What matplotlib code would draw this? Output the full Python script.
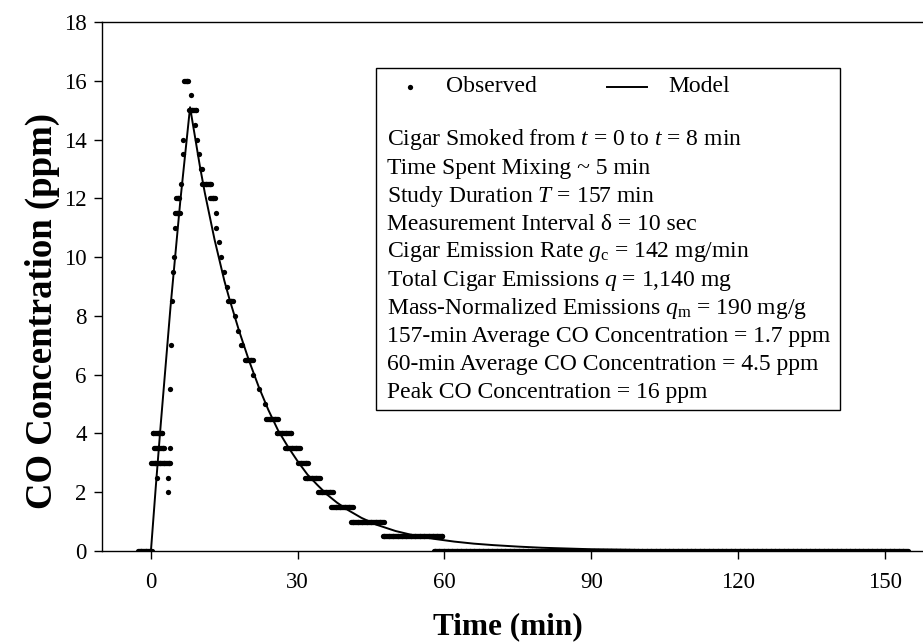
import numpy as np
import matplotlib
matplotlib.use("Agg")
import matplotlib.pyplot as plt
from matplotlib.patches import Rectangle
from matplotlib.lines import Line2D

plt.rcParams["font.family"] = ["Liberation Serif", "DejaVu Serif"]
plt.rcParams["mathtext.fontset"] = "custom"
plt.rcParams["mathtext.rm"] = "Liberation Serif"
plt.rcParams["mathtext.it"] = "Liberation Serif:italic"

# Observed CO readings (ppm), logged every 10 s and quantized to 0.5 ppm.
# Each entry is a run of equal readings: level, first and last time (min).
obs_level = [0.0, 4.0, 3.5, 3.5, 3.0, 2.5, 2.5, 2.0, 5.5, 7.0, 8.5, 9.5, 10.0,
             11.0, 11.5, 12.0, 12.5, 13.5, 14.0, 16.0, 15.5, 15.0, 14.5, 14.0,
             13.5, 13.0, 12.5, 12.0, 11.5, 11.0, 10.5, 10.0, 9.5, 9.0, 8.5,
             8.0, 7.5, 7.0, 6.5, 6.0, 5.5, 5.0, 4.5, 4.0, 3.5, 3.0, 2.5, 2.0,
             1.5, 1.0, 0.5, 0.0]
obs_start = [-2.6, 0.35, 0.7, 3.9, 0.1, 1.3, 3.4, 3.5, 4.0, 4.17, 4.33, 4.5,
             4.67, 5.0, 4.9, 5.1, 6.1, 6.5, 6.6, 6.8, 8.1, 7.8, 9.0, 9.4, 9.8,
             10.2, 10.5, 12.1, 13.2, 13.4, 13.9, 14.4, 14.9, 15.5, 15.8, 17.2,
             17.8, 18.5, 19.2, 20.9, 22.1, 23.3, 23.6, 25.7, 27.4, 30.1, 31.5,
             34.2, 36.9, 40.9, 47.4, 57.8]
obs_end = [0.33, 2.5, 2.7, 3.9, 4.0, 1.3, 3.4, 3.5, 4.0, 4.17, 4.33, 4.5,
           4.67, 5.0, 6.0, 5.9, 6.1, 6.5, 6.6, 7.7, 8.1, 9.4, 9.0, 9.4, 9.8,
           10.4, 12.4, 13.2, 13.2, 13.4, 13.9, 14.4, 14.9, 15.5, 16.8, 17.2,
           17.8, 18.7, 20.9, 20.9, 22.1, 23.3, 26.0, 28.8, 30.5, 32.2, 34.5,
           37.3, 41.3, 47.7, 59.6, 154.7]
SAMPLE_STEP = 10.0 / 60.0  # measurement interval, min

# Mass-balance model curve (ppm vs min)
model_time = [0, 1, 2, 3, 4, 5, 6, 7, 8, 9, 10, 11, 12, 13, 14, 15, 16, 18,
              20, 22, 24, 26, 28, 30, 32, 34, 36, 38, 40, 43, 46, 50, 54, 58,
              62, 66, 70, 75, 80, 90, 100, 110, 120, 135, 155]
model_conc = [0.0, 2.2, 4.3, 6.3, 8.3, 10.1, 11.9, 13.5, 15.1, 14.1, 13.1,
              12.2, 11.4, 10.6, 9.9, 9.2, 8.6, 7.5, 6.5, 5.6, 4.8, 4.1, 3.55,
              3.05, 2.6, 2.25, 1.92, 1.65, 1.42, 1.13, 0.9, 0.68, 0.52, 0.41,
              0.32, 0.25, 0.2, 0.15, 0.11, 0.06, 0.035, 0.02, 0.01, 0.005, 0.0]

x_ticks = [0, 30, 60, 90, 120, 150]
y_ticks = [0, 2, 4, 6, 8, 10, 12, 14, 16, 18]

info_lines = [
    "Cigar Smoked from $t$ = 0 to $t$ = 8 min",
    "Time Spent Mixing ~ 5 min",
    "Study Duration $T$ = 157 min",
    "Measurement Interval \u03b4 = 10 sec",
    "Cigar Emission Rate $g_{\\mathrm{c}}$ = 142 mg/min",
    "Total Cigar Emissions $q$ = 1,140 mg",
    "Mass-Normalized Emissions $q_{\\mathrm{m}}$ = 190 mg/g",
    "157-min Average CO Concentration = 1.7 ppm",
    "60-min Average CO Concentration = 4.5 ppm",
    "Peak CO Concentration = 16 ppm",
]

# expand runs into individual 10-s readings
obs_t, obs_v = [], []
for lev, s, e in zip(obs_level, obs_start, obs_end):
    ts = np.arange(s, e + 1e-6, SAMPLE_STEP)
    obs_t.extend(ts)
    obs_v.extend([lev] * len(ts))

W, H = 923, 643
fig = plt.figure(figsize=(W / 100, H / 100), dpi=100)
ax_l, ax_r, ax_t, ax_b = 102, 923, 22, 551
ax = fig.add_axes([ax_l / W, 1 - ax_b / H, (ax_r - ax_l) / W, (ax_b - ax_t) / H])


def ax_x(px):
    return (px - ax_l) / (ax_r - ax_l)


def ax_y(py):
    return (ax_b - py) / (ax_b - ax_t)


ax.plot(obs_t, obs_v, "o", ms=3.8, color="black", mec="none")
ax.plot(model_time, model_conc, "-", color="black", lw=1.4)

ax.set_xlim(-10, 157.8)
ax.set_ylim(0, 18)
ax.set_xticks(x_ticks)
ax.set_yticks(y_ticks)
ax.spines["right"].set_visible(False)
for sp in ("left", "bottom", "top"):
    ax.spines[sp].set_linewidth(1.0)
ax.tick_params(direction="out", length=6, width=1, labelsize=16.5,
               top=False, right=False)
ax.tick_params(axis="x", pad=9)
ax.tick_params(axis="y", pad=5)
ax.set_xlabel("Time (min)", fontsize=22.5, fontweight="bold")
ax.xaxis.set_label_coords(0.4945, ax_y(612))
ax.set_ylabel("CO Concentration (ppm)", fontsize=26.5, fontweight="bold")
ax.yaxis.set_label_coords(ax_x(60), ax_y(311))

# annotation box with legend and study summary
fs = 17
legend_y = ax_y(86.7)
ax.plot([ax_x(410)], [legend_y], "o", ms=3.8, color="black", mec="none",
        transform=ax.transAxes)
ax.text(ax_x(446), legend_y, "Observed", transform=ax.transAxes, va="center",
        fontsize=fs)
ax.add_line(Line2D([ax_x(606.7), ax_x(646.7)], [legend_y, legend_y],
                   transform=ax.transAxes, color="black", lw=1.4))
ax.text(ax_x(668), legend_y, "Model", transform=ax.transAxes, va="center",
        fontsize=fs)

texts = []
for i, line in enumerate(info_lines):
    texts.append(ax.text(ax_x(386.7), ax_y(140 + i * 28.1), line,
                         transform=ax.transAxes, va="center", fontsize=fs))

# size the frame to the widest summary line
fig.canvas.draw()
renderer = fig.canvas.get_renderer()
right_px = max(t.get_window_extent(renderer).x1 for t in texts)
box_left = ax_x(376)
box_right = ax.transAxes.inverted().transform((right_px + 10, 0))[0]
box_top, box_bottom = ax_y(68), ax_y(410)
ax.add_patch(Rectangle((box_left, box_bottom), box_right - box_left,
                       box_top - box_bottom, transform=ax.transAxes,
                       fill=False, lw=1.0, ec="black"))

fig.savefig("out.png", dpi=100)
